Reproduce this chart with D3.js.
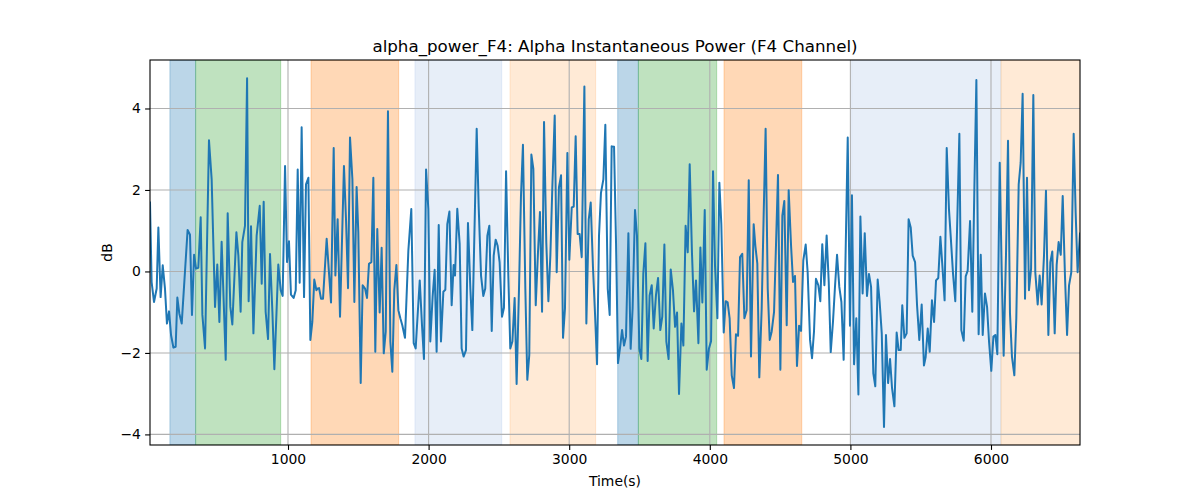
<!DOCTYPE html>
<meta charset="utf-8">
<style>
  body { margin: 0; background: #fff; }
  text { font-family: 'DejaVu Sans', sans-serif; }
</style>
<body>
<div id="chart"></div>
<script src="https://d3js.org/d3.v7.min.js"></script>
<script>

// time stamps (s) of the line vertices
var times = [
  18.5,30,47,66,78,94,109,125,139,154,168,185,201,213,227,244,286,303,317,332,346,362,379,391,410,438,457,481,497,512,528,557,571,590,604,633,647,663,675,694,709,720,737,754,777,799,813,827,841,858,872,889,903,931,948,962,979,993,1007,1021,1040,1055,1069,1083,1097,1114,
  1128,1145,1159,1173,1187,1202,1211,1221,1235,1249,1275,1306,1325,1337,1353,1370,1398,1413,1427,1441,1458,1472,1488,1500,1517,1531,1548,1562,1576,1593,1607,1621,1635,1652,1666,1681,1695,1711,1728,1742,1756,1771,1785,1799,1813,1832,1856,1877,1894,1908,1922,1937,1953,1967,1982,1998,2012,2029,2043,2057,2072,2088,2105,2119,2133,2148,2164,2178,
  2188,2204,2221,2235,2249,2266,2280,2297,2311,2342,2356,2373,2389,2403,2418,2432,2449,2463,2477,2491,2505,2522,2536,2551,2567,2581,2596,2612,2626,2643,2657,2671,2688,2702,2716,2731,2745,2762,2778,2792,2807,2821,2837,2852,2866,2880,2897,2911,2927,2942,2956,2970,2987,3001,3018,3032,3046,3060,3074,3089,3108,3122,3139,3153,3169,3184,3198,
  3212,3226,3243,3257,3274,3288,3302,3319,3333,3347,3361,3376,3390,3404,3421,3437,3451,3468,3482,3499,3513,3527,3542,3558,3572,3587,3601,3617,3632,3648,3662,3677,3691,3707,3722,3738,3753,3767,3781,3798,3812,3828,3843,3857,3873,3888,3902,3919,3933,3947,3964,3978,3994,4009,4023,4037,4054,4068,4082,4099,4113,4127,4141,4156,4172,4186,4201,4215,4231,4246,4262,4277,4293,4312,
  4324,4338,4352,4369,4383,4397,4412,4426,4440,4457,4471,4485,4502,4516,4530,4547,4561,4578,4592,4606,4620,4635,4649,4665,4682,4696,4713,4727,4741,4755,4772,4786,4800,4815,4831,4846,4860,4876,4891,4905,4921,4936,4952,4966,4981,4997,5011,5026,5042,5057,5071,5087,5102,5118,5132,5147,5163,5177,5194,5208,5223,5239,5253,5268,5282,5296,5313,5329,5343,5358,
  5369,5384,5400,5414,5429,5443,5460,5474,5490,5507,5523,5535,5550,5564,5580,5595,5609,5625,5640,5654,5670,5685,5701,5716,5730,5746,5761,5775,5789,5806,5820,5834,5851,5867,5882,5896,5912,5927,5941,5957,5972,5986,6002,6017,6031,6045,6062,6076,6090,6107,6121,6135,6149,6166,6180,6197,6211,6225,6242,6256,6270,6285,6301,6315,6332,6346,6360,6377,6391,6408,6422,6436,6453,6467,6481,6496,6510,6526,6541,6555,6571,6588,6602,6616,6633
];

// alpha power in dB at those times
var power = [
  1.69,-0.26,-0.75,-0.42,1.08,-0.63,0.15,-0.42,-1.28,-0.98,-1.56,-1.87,-1.85,-0.64,-1.03,-1.28,1.02,0.90,-1.07,0.41,0.07,0.09,1.33,-1.06,-1.89,3.22,2.26,-0.87,0.17,-1.24,0.73,-2.17,1.43,-0.87,-1.30,0.96,0.39,-0.99,0.72,1.12,4.74,-0.73,1.11,-1.52,0.88,1.61,-0.30,1.71,-0.99,-1.66,0.43,-0.99,-2.40,0.17,-0.46,-0.60,2.59,0.23,0.74,-0.57,-0.65,-0.46,2.50,-0.28,3.54,-0.63,
  2.14,2.30,-1.68,-1.24,-0.20,-0.46,-0.42,-0.41,-0.67,-0.67,0.80,-0.76,3.03,-0.10,1.28,-1.11,2.59,1.24,-0.41,3.29,2.26,-0.75,2.07,0.96,-2.74,-0.34,-0.42,-0.65,0.19,0.23,2.30,-1.97,1.04,-1.01,0.58,-2.01,-1.48,3.93,-1.72,-2.46,-0.46,0.16,-0.95,-1.15,-1.32,-1.63,0.51,1.53,-1.76,-1.89,-1.07,-0.22,-1.32,-2.15,2.50,1.53,-1.72,-0.60,0.04,-1.97,1.14,-1.72,-0.50,-0.45,1.16,1.47,-0.83,0.16,
  -0.10,1.54,0.67,-1.89,-2.09,-1.93,1.19,-0.42,-1.44,3.50,1.61,-0.10,-0.60,-0.42,0.88,1.12,-1.46,0.39,0.78,0.63,0.23,-1.11,-0.89,2.46,-0.10,-1.89,-1.72,-0.65,-2.76,-0.42,1.85,3.11,-0.42,-2.66,-2.05,2.87,2.52,-0.83,0.47,1.46,-0.99,3.67,0.72,-0.73,0.39,2.06,3.83,-0.02,2.06,2.36,-1.63,-0.91,2.91,0.29,1.57,1.59,3.32,0.92,0.92,0.35,4.54,-1.28,1.28,1.69,0.11,-1.07,-2.28,
  0.88,1.93,2.26,3.60,-0.42,-1.07,3.07,3.06,0.72,-2.25,-1.89,-1.44,-1.82,-1.60,0.94,-1.90,-0.91,1.51,0.88,-1.89,-2.15,-0.06,0.69,-2.20,-0.59,-0.34,-1.40,-0.59,-0.16,-1.44,-1.11,0.66,-1.72,-2.15,0.05,-0.46,-1.36,-1.01,-3.01,-1.28,-1.82,1.12,0.47,2.63,0.47,-0.98,-0.22,-1.76,0.59,-0.76,1.51,-2.41,-1.89,-1.71,2.46,0.15,-1.15,2.18,1.16,-1.50,-0.73,-0.76,-1.15,-2.55,-2.86,-1.54,-1.58,0.35,0.43,-1.15,-0.95,2.24,-2.09,1.16,
  0.63,0.19,-2.60,-0.91,1.37,3.50,-0.42,-1.68,-1.48,-0.99,0.67,2.37,-2.41,1.37,1.73,-1.32,1.99,0.63,-0.26,-0.11,-2.32,-1.33,-1.46,0.27,0.66,-0.02,-1.68,-2.13,-1.48,-0.18,-0.34,-0.73,0.67,-0.34,0.88,-0.26,-1.98,-1.24,-0.34,0.41,-0.38,-0.75,-2.17,0.47,3.29,-1.33,1.87,-2.28,-1.15,-3.02,1.35,-0.54,0.94,-0.60,-0.06,-0.38,-2.50,-2.82,-0.20,-0.75,-1.52,-3.82,-1.56,-2.74,-2.15,-2.86,-3.31,-1.50,-1.93,-1.93,
  -0.83,-1.63,-1.52,1.28,1.08,0.39,0.23,-0.83,-1.68,-0.81,-2.31,-2.11,-1.40,-1.97,-0.71,-1.24,-0.22,-0.16,0.85,0.15,-0.71,3.03,1.53,0.72,-0.06,-0.73,1.37,3.38,-1.44,-1.70,-0.12,0.02,1.24,-0.99,2.10,4.70,-1.54,0.41,-1.56,-0.54,-0.87,-1.72,-2.44,-1.60,-1.56,-2.03,2.67,0.02,-2.07,0.47,3.21,-1.03,-2.09,-2.55,-1.15,2.14,2.67,4.36,-0.67,2.30,-0.46,0.07,4.33,-0.02,-0.81,-0.10,-0.81,0.39,1.98,-1.56,0.23,0.49,-1.52,0.16,0.72,0.41,1.85,-0.10,-1.56,-0.34,-0.02,3.38,1.45,-0.02,0.93
];

// shaded intervals
var spanStart = [160, 343, 1164, 1903, 2579, 3345, 3492, 4101, 5009, 6071];
var spanEnd   = [343, 948, 1787, 2520, 3188, 3492, 4049, 4654, 6071, 6700];
var spanColor = ["#1f77b4", "#2ca02c", "#ff7f0e", "#aec7e8", "#ffbb78",
                 "#1f77b4", "#2ca02c", "#ff7f0e", "#aec7e8", "#ffbb78"];

var xTicks = [1000, 2000, 3000, 4000, 5000, 6000];
var yTicks = [-4, -2, 0, 2, 4];

var margin = {top: 60, right: 120, bottom: 55, left: 150},
    width = 1200 - margin.left - margin.right,
    height = 500 - margin.top - margin.bottom;

var svg = d3.select("#chart")
  .append("svg")
    .attr("width", 1200)
    .attr("height", 500);

var g = svg.append("g")
    .attr("transform", "translate(" + margin.left + "," + margin.top + ")");

var data = times.map(function(t, i) { return {t: t, v: power[i]}; });

var x = d3.scaleLinear().domain([18.5, 6633]).range([0, width]);
var y = d3.scaleLinear().domain([-4.26, 5.19]).range([height, 0]);

g.append("clipPath").attr("id", "clip")
  .append("rect").attr("width", width).attr("height", height);

var plot = g.append("g").attr("clip-path", "url(#clip)");

// spans
var spans = spanStart.map(function(s, i) { return {s: s, e: spanEnd[i], c: spanColor[i]}; });
plot.selectAll(".span")
  .data(spans)
  .enter()
  .append("rect")
    .attr("x", function(d) { return x(d.s); })
    .attr("y", 0)
    .attr("width", function(d) { return x(d.e) - x(d.s); })
    .attr("height", height)
    .attr("fill", function(d) { return d.c; })
    .attr("fill-opacity", 0.3)
    .attr("stroke", function(d) { return d.c; })
    .attr("stroke-opacity", 0.3)
    .attr("stroke-width", 1);

// grid
plot.selectAll(".vgrid")
  .data(xTicks)
  .enter()
  .append("line")
    .attr("x1", function(d) { return x(d); })
    .attr("x2", function(d) { return x(d); })
    .attr("y1", 0).attr("y2", height)
    .attr("stroke", "#b0b0b0").attr("stroke-width", 1.1);
plot.selectAll(".hgrid")
  .data(yTicks)
  .enter()
  .append("line")
    .attr("y1", function(d) { return y(d); })
    .attr("y2", function(d) { return y(d); })
    .attr("x1", 0).attr("x2", width)
    .attr("stroke", "#b0b0b0").attr("stroke-width", 1.1);

// the signal
var line = d3.line()
  .x(function(d) { return x(d.t); })
  .y(function(d) { return y(d.v); });
plot.append("path")
  .datum(data)
  .attr("d", line)
  .attr("fill", "none")
  .attr("stroke", "#1f77b4")
  .attr("stroke-width", 2)
  .attr("stroke-linejoin", "round")
  .attr("stroke-linecap", "square");

// axes
var xAxis = g.append("g")
  .attr("transform", "translate(0," + height + ")")
  .call(d3.axisBottom(x).tickValues(xTicks).tickSize(4.9).tickPadding(4.2)
        .tickFormat(d3.format("d")));
var yAxis = g.append("g")
  .call(d3.axisLeft(y).tickValues(yTicks).tickSize(4.9).tickPadding(4.2)
        .tickFormat(function(d) { return d < 0 ? "\u2212" + Math.abs(d) : d; }));
[xAxis, yAxis].forEach(function(a) {
  a.select(".domain").remove();
  a.selectAll("line").attr("stroke", "#000").attr("stroke-width", 1.1);
  a.selectAll("text").attr("font-size", "13.9px").attr("fill", "#000")
    .attr("font-family", "'DejaVu Sans', sans-serif");
});

// frame
g.append("rect")
  .attr("width", width).attr("height", height)
  .attr("fill", "none").attr("stroke", "#000").attr("stroke-width", 1.1);

// labels
svg.append("text")
  .attr("x", margin.left + width / 2).attr("y", 52)
  .attr("text-anchor", "middle")
  .attr("font-size", "16.7px")
  .text("alpha_power_F4: Alpha Instantaneous Power (F4 Channel)");

svg.append("text")
  .attr("x", margin.left + width / 2).attr("y", 486)
  .attr("text-anchor", "middle")
  .attr("font-size", "13.9px")
  .text("Time(s)");

svg.append("text")
  .attr("transform", "translate(112," + (margin.top + height / 2) + ")rotate(-90)")
  .attr("text-anchor", "middle")
  .attr("font-size", "13.9px")
  .text("dB");

</script>
</body>
